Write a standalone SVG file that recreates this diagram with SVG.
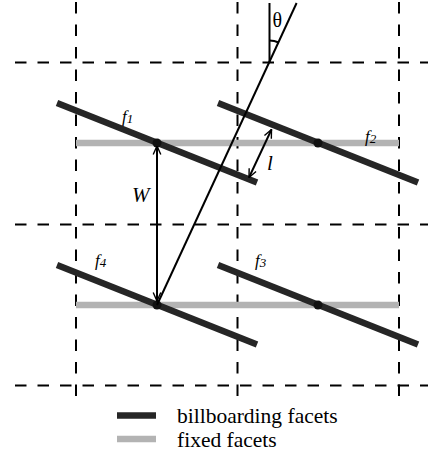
<svg xmlns="http://www.w3.org/2000/svg" width="428" height="452" viewBox="0 0 428 452">
<style>
.grid{stroke:#000;stroke-width:2;stroke-dasharray:11.5 11;fill:none}
.bb{stroke:#262626;stroke-width:6.5;stroke-linecap:butt;fill:none}
.fx{stroke:#b3b3b3;stroke-width:6.5;fill:none}
.ln{stroke:#000;stroke-width:2;fill:none}
.lbl{font-family:"Liberation Serif","Times New Roman",serif;fill:#000}
.it{font-style:italic}
.dot{fill:#111}
</style>
<defs>
<marker id="ah" viewBox="0 0 10 10" refX="9.5" refY="5" markerWidth="10" markerHeight="10" markerUnits="userSpaceOnUse" orient="auto-start-reverse">
<path d="M1,1.2 L9.5,5 L1,8.8" fill="none" stroke="#000" stroke-width="1.4"/>
</marker>
</defs>
<g id="grid">
<line class="grid" x1="76" y1="2" x2="76" y2="396"/>
<line class="grid" x1="237.5" y1="2" x2="237.5" y2="396"/>
<line class="grid" x1="399" y1="2" x2="399" y2="396"/>
<line class="grid" x1="15" y1="62.5" x2="428" y2="62.5"/>
<line class="grid" x1="15" y1="224.5" x2="428" y2="224.5"/>
<line class="grid" x1="15" y1="385.5" x2="428" y2="385.5"/>
</g>
<g id="fixed">
<line class="fx" x1="76" y1="143" x2="399" y2="143"/>
<line class="fx" x1="76" y1="305" x2="399" y2="305"/>
</g>
<g id="f1">
<line class="bb" x1="57" y1="103" x2="257" y2="182.5"/>
<circle class="dot" cx="157" cy="143" r="4.5"/>
<text class="lbl it" x="122" y="122" font-size="17">f<tspan font-size="13" dy="1">1</tspan></text>
</g>
<g id="f2">
<line class="bb" x1="218" y1="103" x2="418" y2="182.5"/>
<circle class="dot" cx="318" cy="143" r="4.5"/>
<text class="lbl it" x="365" y="142" font-size="17">f<tspan font-size="13" dy="1">2</tspan></text>
</g>
<g id="f4">
<line class="bb" x1="57" y1="265" x2="257" y2="344.5"/>
<circle class="dot" cx="157" cy="305" r="4.5"/>
<text class="lbl it" x="95" y="266" font-size="17">f<tspan font-size="13" dy="1">4</tspan></text>
</g>
<g id="f3">
<line class="bb" x1="218" y1="265" x2="418" y2="344.5"/>
<circle class="dot" cx="318" cy="305" r="4.5"/>
<text class="lbl it" x="255" y="266" font-size="17">f<tspan font-size="13" dy="1">3</tspan></text>
</g>
<g id="connectors">
<line class="ln" x1="296.6" y1="3" x2="157" y2="305"/>
<line class="ln" x1="269.5" y1="3" x2="269.5" y2="62.5"/>
<path class="ln" d="M269.5,40.5 A22,22 0 0 1 278.7,42.5" stroke-width="1.5"/>
<line class="ln" x1="157" y1="146" x2="157" y2="301" stroke-width="1.6" marker-start="url(#ah)" marker-end="url(#ah)"/>
<line class="ln" x1="271.5" y1="129.5" x2="249" y2="177.5" stroke-width="1.6" marker-start="url(#ah)" marker-end="url(#ah)"/>
</g>
<g id="labels">
<text class="lbl" x="272.5" y="27" font-size="20">θ</text>
<text class="lbl it" x="132" y="201.5" font-size="21">W</text>
<text class="lbl it" x="267" y="170" font-size="21">l</text>
</g>
<g id="legend">
<line class="bb" x1="117" y1="415.5" x2="156" y2="415.5" stroke-width="6"/>
<line class="fx" x1="117" y1="439" x2="156" y2="439" stroke-width="6"/>
<text class="lbl" x="177" y="423" font-size="21.5">billboarding facets</text>
<text class="lbl" x="177" y="447" font-size="21.5">fixed facets</text>
</g>
</svg>
